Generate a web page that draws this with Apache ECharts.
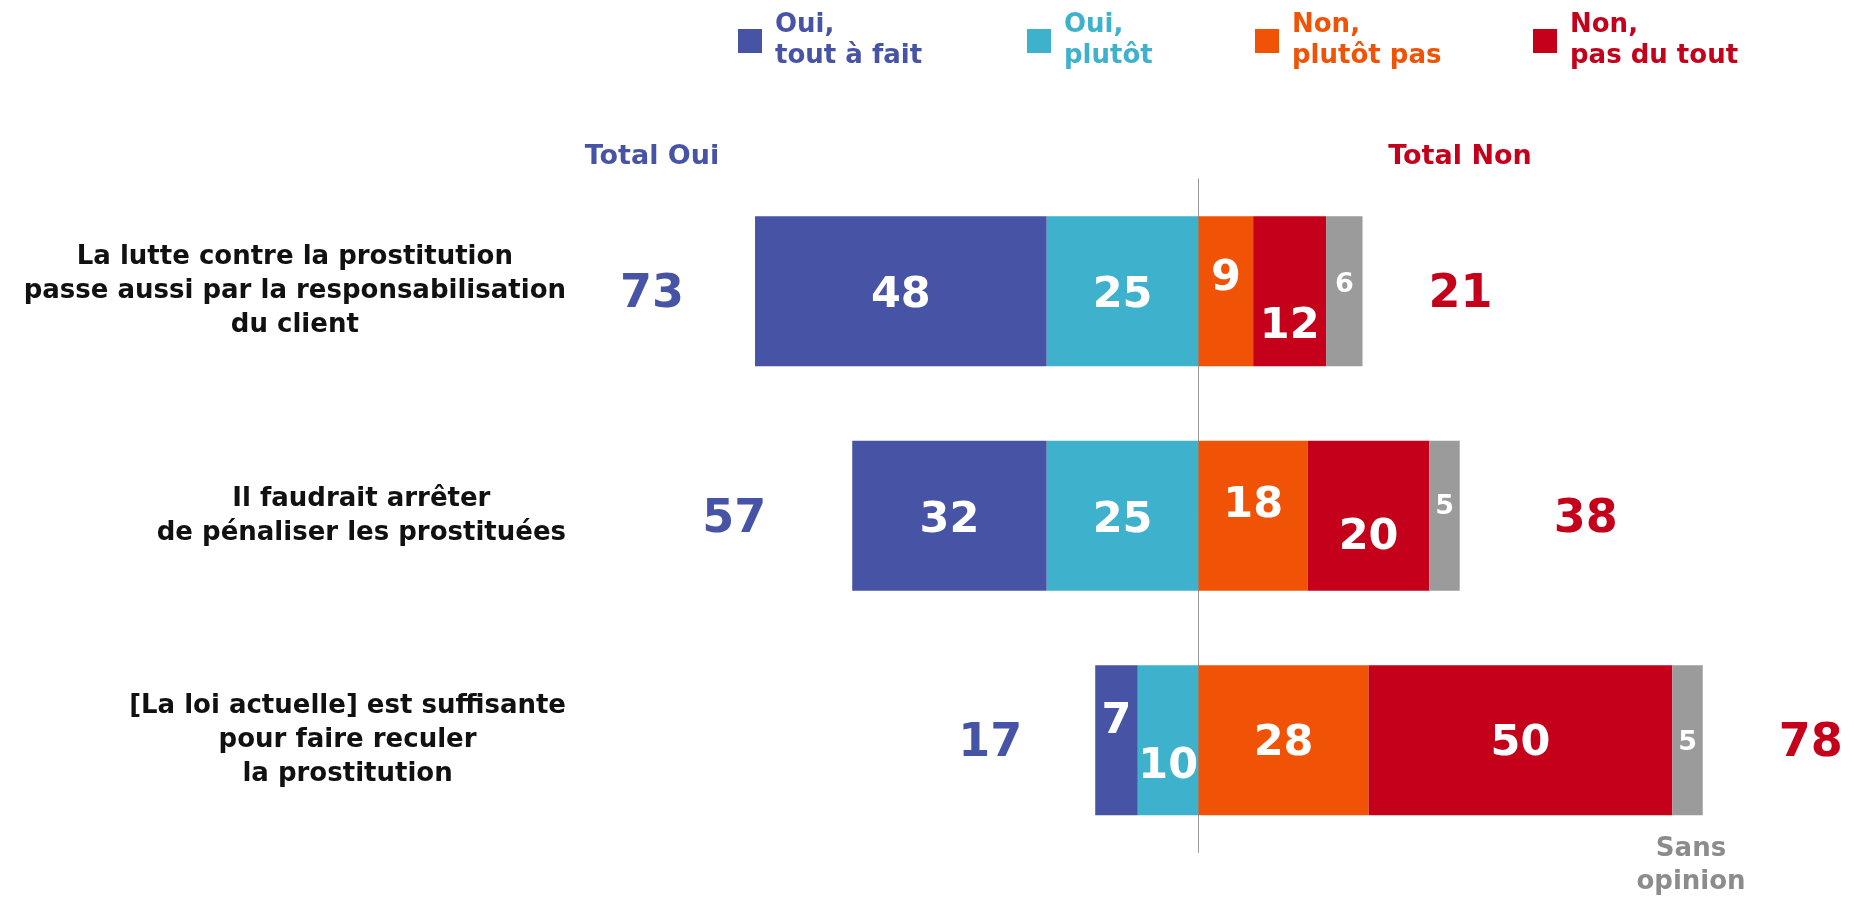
<!DOCTYPE html>
<html>
<head>
<meta charset="utf-8">
<script src="https://cdn.jsdelivr.net/npm/echarts@6/dist/echarts.min.js"></script>
<style>
  html, body { margin: 0; padding: 0; background: #fff; }
  #chart { width: 1849px; height: 899px; }
</style>
</head>
<body>
<div id="chart"></div>
<script>
// données du sondage
const categories = [
  'La lutte contre la prostitution\npasse aussi par la responsabilisation\ndu client',
  'Il faudrait arrêter\nde pénaliser les prostituées',
  '[La loi actuelle] est suffisante\npour faire reculer\nla prostitution',
];
const ouiToutAFait = [48, 32, 7];
const ouiPlutot = [25, 25, 10];
const nonPlutotPas = [9, 18, 28];
const nonPasDuTout = [12, 20, 50];
const sansOpinion = [6, 5, 5];
const totalOui = [73, 57, 17];
const totalNon = [21, 38, 78];

// couleurs
const BLUE = '#4754A5';
const CYAN = '#3EB1CD';
const ORANGE = '#F05306';
const RED = '#C4001A';
const GREY = '#9B9B9B';

const FONT = '"DejaVu Sans", Verdana, sans-serif';

// décalages verticaux des étiquettes (segments étroits)
const SHIFT = {
  ouiToutAFait: [5, 5, -18],
  ouiPlutot: [5, 5, 27],
  nonPlutotPas: [-12, -10, 4],
  nonPasDuTout: [36, 22, 4],
  sansOpinion: [-6, -9, 3],
};
// écart entre fin de barre et total
const GAP_OUI = [71, 86, 73];
const GAP_NON = [66, 94, 76];
const LEGEND_LEFT = [733, 1022, 1250, 1528];

const chart = echarts.init(document.getElementById('chart'));

function segment(name, key, values, color, sign, small) {
  return {
    name: name,
    type: 'bar',
    stack: 'total',
    barWidth: 150,
    itemStyle: { color: color },
    label: {
      show: true,
      position: 'inside',
      color: '#fff',
      fontFamily: FONT,
      fontWeight: 'bold',
      fontSize: small ? 27 : 43,
      formatter: p => Math.abs(p.value),
    },
    data: values.map((v, i) => ({
      value: sign * v,
      label: { offset: [0, SHIFT[key][i]] },
    })),
  };
}

const endOui = ouiToutAFait.map((v, i) => -(v + ouiPlutot[i]));
const endNon = nonPlutotPas.map((v, i) => v + nonPasDuTout[i] + sansOpinion[i]);

function totals(ends, values, gaps, color, pos) {
  return {
    type: 'scatter',
    symbolSize: 0,
    clip: false,
    silent: true,
    itemStyle: { opacity: 1 },
    label: {
      show: true,
      position: pos,
      offset: [0, 4],
      color: color,
      fontFamily: FONT,
      fontWeight: 'bold',
      fontSize: 46,
    },
    data: ends.map((x, i) => ({
      value: [x, i],
      label: { distance: gaps[i], formatter: String(values[i]) },
    })),
  };
}

const legendItems = [
  { name: 'Oui, tout à fait', color: BLUE },
  { name: 'Oui, plutôt', color: CYAN },
  { name: 'Non, plutôt pas', color: ORANGE },
  { name: 'Non, pas du tout', color: RED },
];

chart.setOption({
  animation: false,
  textStyle: { fontFamily: FONT },
  legend: legendItems.map((it, i) => ({
    left: LEGEND_LEFT[i],
    top: 5,
    icon: 'rect',
    itemWidth: 24,
    itemHeight: 24,
    selectedMode: false,
    formatter: n => n.replace(', ', ',\n'),
    textStyle: {
      fontFamily: FONT,
      fontSize: 26,
      fontWeight: 'bold',
      lineHeight: 31,
      padding: [0, 0, 0, 8],
    },
    data: [{ name: it.name, textStyle: { color: it.color } }],
  })),
  grid: { left: 591, width: 1215, top: 179, height: 673.5, outerBoundsMode: 'none' },
  xAxis: {
    type: 'value',
    min: -100,
    max: 100,
    show: false,
  },
  yAxis: {
    type: 'category',
    inverse: true,
    data: categories,
    axisLine: { show: true, onZero: true, lineStyle: { color: '#999', width: 1 } },
    axisTick: { show: false },
    splitLine: { show: false },
    axisLabel: {
      margin: 25,
      align: 'right',
      formatter: v => v.split('\n').map(l => '{c|' + l + '}').join('\n'),
      rich: {
        c: {
          align: 'center',
          fontFamily: FONT,
          fontSize: 26,
          fontWeight: 'bold',
          lineHeight: 34,
          color: '#111',
        },
      },
    },
  },
  graphic: [
    {
      type: 'text',
      x: 652, y: 157,
      style: { text: 'Total Oui', fill: BLUE, font: 'bold 27px ' + FONT, align: 'center', verticalAlign: 'middle' },
    },
    {
      type: 'text',
      x: 1460, y: 157,
      style: { text: 'Total Non', fill: RED, font: 'bold 27px ' + FONT, align: 'center', verticalAlign: 'middle' },
    },
    {
      type: 'text',
      x: 1691, y: 866,
      style: { text: 'Sans\nopinion', fill: '#8C8C8C', font: 'bold 26px ' + FONT, lineHeight: 33, align: 'center', verticalAlign: 'middle' },
    },
  ],
  series: [
    segment('Oui, plutôt', 'ouiPlutot', ouiPlutot, CYAN, -1, false),
    segment('Oui, tout à fait', 'ouiToutAFait', ouiToutAFait, BLUE, -1, false),
    segment('Non, plutôt pas', 'nonPlutotPas', nonPlutotPas, ORANGE, 1, false),
    segment('Non, pas du tout', 'nonPasDuTout', nonPasDuTout, RED, 1, false),
    segment('Sans opinion', 'sansOpinion', sansOpinion, GREY, 1, true),
    totals(endOui, totalOui, GAP_OUI, BLUE, 'left'),
    totals(endNon, totalNon, GAP_NON, RED, 'right'),
  ],
});
</script>
</body>
</html>
